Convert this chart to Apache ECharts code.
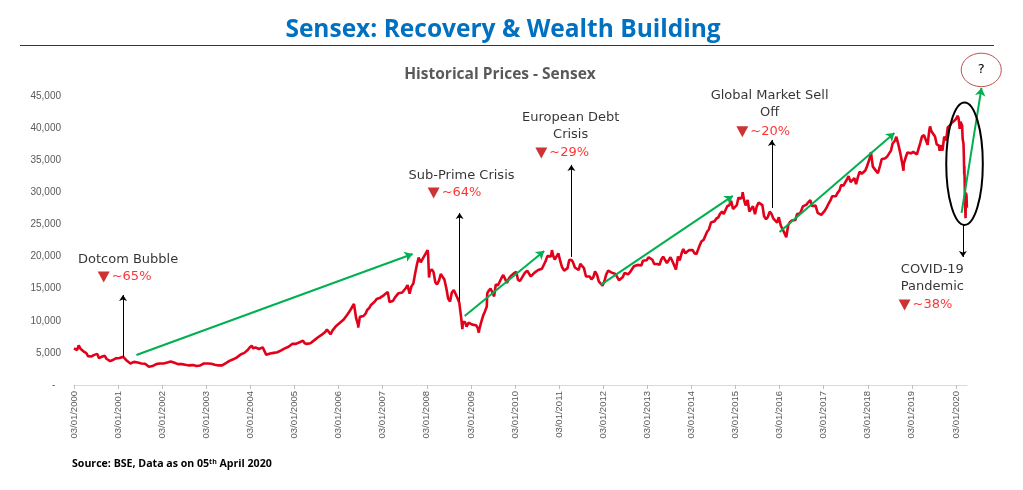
<!DOCTYPE html>
<html><head><meta charset="utf-8">
<script src="https://cdn.jsdelivr.net/npm/echarts@6/dist/echarts.min.js"></script>
<style>html,body{margin:0;padding:0;background:#fff}#c{width:1023px;height:490px}</style>
</head><body><div id="c"></div>
<script>
// ---------- tick labels ----------
const tickYears = [2000,2001,2002,2003,2004,2005,2006,2007,2008,2009,2010,2011,2012,2013,2014,2015,2016,2017,2018,2019,2020];
const tickLabels = ['03/01/2000','03/01/2001','03/01/2002','03/01/2003','03/01/2004','03/01/2005','03/01/2006','03/01/2007','03/01/2008','03/01/2009','03/01/2010','03/01/2011','03/01/2012','03/01/2013','03/01/2014','03/01/2015','03/01/2016','03/01/2017','03/01/2018','03/01/2019','03/01/2020'];

// ---------- Sensex closes, two readings per month (mid-month, month-end) ----------
const halfMonthDays = [14, 28];
const p2000 = [5600,5450, 6100,5600, 5650,5150, 4950,4491, 4300,4433, 4650,4748, 4850,4170, 4350,4477, 4550,4090, 3850,3711, 3850,3998, 4150,3972];
const p2001 = [4200,4326, 4400,4247, 3800,3604, 3350,3519, 3600,3631, 3500,3457, 3350,3329, 3300,3245, 2850,2811, 2950,2989, 3250,3287, 3350,3262];
const p2002 = [3350,3311, 3500,3562, 3650,3469, 3450,3338, 3250,3125, 3250,3244, 3150,2988, 3050,3181, 3100,2991, 2950,2950, 3050,3229, 3350,3377];
const p2003 = [3350,3250, 3300,3283, 3150,3049, 3050,2960, 3050,3180, 3400,3607, 3750,3792, 4000,4244, 4300,4453, 4750,4906, 5000,5044, 5500,5839];
const p2004 = [6100,5695, 5850,5667, 5600,5591, 5850,5655, 4700,4760, 4900,4795, 5000,5170, 5100,5192, 5400,5584, 5700,5672, 5950,6234, 6400,6603];
const p2005 = [6400,6555, 6650,6713, 6900,6493, 6400,6154, 6500,6715, 6950,7193, 7400,7635, 7800,7805, 8250,8634, 8400,7892, 8500,8788, 9200,9398];
const p2006 = [9700,9920, 10200,10370, 10900,11280, 11800,12043, 12400,10399, 9300,10609, 10300,10744, 11100,11699, 12000,12454, 12700,12962, 13400,13696, 13600,13787];
const p2007 = [14000,14091, 14500,12938, 12800,13072, 13600,13872, 14300,14544, 14400,14651, 15100,15551, 14200,15319, 15800,17291, 18800,19838, 19100,19363, 20100,20287];
const p2008 = [20400,17649, 18000,17578, 16000,15644, 16300,17287, 17300,16416, 15000,13462, 13000,14356, 14800,14565, 13500,12860, 10500,9788, 9800,9093, 9700,9647];
const p2009 = [9400,9424, 9300,8892, 8700,9709, 10800,11403, 12200,14625, 15000,14494, 13800,15670, 15500,15667, 16700,17127, 17200,15896, 16600,16926, 17200,17465];
const p2010 = [17600,16358, 16200,16430, 17100,17528, 17800,17559, 16900,16945, 17500,17701, 17900,17868, 18100,17972, 19300,20069, 20300,20032, 20200,19521, 19800,20509];
const p2011 = [19200,18328, 17800,17823, 18200,19445, 19500,19136, 18300,18503, 17900,18845, 18600,18197, 16900,16676, 16900,16454, 16800,17705, 17100,16123, 15800,15455];
const p2012 = [16200,17194, 17800,17753, 17500,17404, 17300,17319, 16300,16219, 16800,17430, 17200,17236, 17600,17430, 18500,18763, 18700,18505, 18600,19340, 19400,19427];
const p2013 = [19900,19895, 19500,18862, 19000,18836, 18700,19504, 20000,19760, 19000,19396, 19900,19346, 18600,18620, 20000,19380, 20500,21165, 20500,20792, 21000,21171];
const p2014 = [21000,20514, 20400,21120, 21800,22386, 22600,22418, 23900,24217, 25300,25414, 25500,25895, 26100,26638, 27000,26631, 26500,27866, 28000,28694, 27400,27499];
const p2015 = [28000,29183, 29000,29361, 28900,27957, 28800,27011, 27300,27828, 26600,27781, 28400,28115, 28000,26283, 25800,26155, 27000,26657, 25900,26146, 25300,26118];
const p2016 = [24800,24871, 23600,23002, 24800,25342, 25600,25607, 25700,26668, 26600,26999, 27800,28052, 28100,28452, 28800,27866, 28000,27930, 26800,26653, 26500,26626];
const p2017 = [27200,27656, 28300,28743, 29400,29621, 29400,29918, 30300,31146, 31000,30922, 32000,32515, 31600,31730, 32200,31284, 32400,33213, 32900,33149, 33400,34057];
const p2018 = [35000,35965, 34000,34184, 33300,32969, 34100,35160, 35300,35322, 35600,35423, 36500,37607, 38000,38645, 37400,36227, 34700,34442, 35500,36194, 35900,36068];
const p2019 = [36300,36257, 35900,35867, 37700,38673, 38900,39032, 37400,39714, 39500,39395, 38700,37481, 37300,37333, 36500,38667, 38100,40129, 40400,40794, 41000,41254];
const yearlyPrices = [p2000,p2001,p2002,p2003,p2004,p2005,p2006,p2007,p2008,p2009,p2010,p2011,p2012,p2013,p2014,p2015,p2016,p2017,p2018,p2019];

// ---------- extra daily readings (start, notable extremes, 2020 crash) ----------
const detailDates = ['2000-01-03','2000-02-11','2004-01-14','2004-05-17','2006-05-10','2006-06-14','2008-01-10','2008-01-22','2008-10-24','2008-10-27','2009-03-09','2009-05-18','2010-11-05','2013-08-28','2015-03-04','2016-02-29','2018-01-29','2018-08-28','2018-10-26','2019-06-03','2019-08-22',
  '2020-01-01','2020-01-10','2020-01-17','2020-01-24','2020-01-31','2020-02-03','2020-02-10','2020-02-14','2020-02-20','2020-02-24','2020-02-28','2020-03-04','2020-03-06','2020-03-09','2020-03-12','2020-03-13','2020-03-16','2020-03-19','2020-03-23','2020-03-25','2020-03-26','2020-03-31','2020-04-03'];
const detailValues = [5700,6150,6200,4505,12612,8929,21000,16730,8701,8509,8160,14284,21005,17968,30024,22951,36283,38896,33349,40268,36472,
  41306,41600,41945,41613,40723,39872,40980,41257,41170,40363,38297,38409,37577,35635,32778,34103,31390,28288,25981,28536,29947,29468,27591];

// ---------- annotations ----------
const eventNames = ['Dotcom Bubble','Sub-Prime Crisis','European Debt\nCrisis','Global Market Sell\nOff','COVID-19\nPandemic'];
const eventLabelAt = [['2001-03-26',19470],['2008-10-17',32550],['2011-04-09',40265],['2015-10-13',43690],['2019-06-22',16670]];
const dropLabels = ['~65%','~64%','~29%','~20%','~38%'];
const dropMarkerAt = [['2000-09-05',16820],['2008-02-29',29900],['2010-08-09',36140],['2015-03-01',39450],['2018-11-04',12460]];
const pointerFrom = [['2001-02-12',4360],['2008-10-01',13000],['2011-04-15',19940],['2015-11-01',27570],['2020-03-01',24920]];
const pointerTo = [['2001-02-12',14020],['2008-10-01',26790],['2011-04-15',34270],['2015-11-01',38160],['2020-03-01',19940]];
const rallyFrom = [['2001-06-03',4670],['2008-11-12',10750],['2011-12-14',15580],['2016-01-03',23830],['2020-02-19',26790]];
const rallyTo = [['2007-09-08',20400],['2010-09-02',20870],['2014-12-12',29440],['2018-08-12',39250],['2020-08-02',46260]];
const covidRing = [['2019-10-15',44000],['2020-08-13',24920]];
const outlookRing = [['2020-02-16',51670],['2021-01-13',46460]];

const yMin = 0, yMax = 45000, yStep = 5000;

// ---------- build ----------
const t = s => Date.parse(s);
const tickValues = tickYears.map(y => Date.UTC(y, 0, 3));
const points = [];
yearlyPrices.forEach((arr, yi) => {
  arr.forEach((v, k) => {
    points.push([Date.UTC(tickYears[yi], Math.floor(k / 2), halfMonthDays[k % 2]), v]);
  });
});
detailDates.forEach((s, i) => points.push([t(s), detailValues[i]]));
points.sort((a, b) => a[0] - b[0]);

const pt = a => [t(a[0]), a[1]];
const chart = echarts.init(document.getElementById('c'), null, {renderer: 'canvas'});

const option = {
  animation: false,
  backgroundColor: '#ffffff',
  grid: {left: 74, right: 56, top: 96, bottom: 105, containLabel: false, outerBoundsMode: 'none'},
  xAxis: {
    type: 'value',
    min: Date.UTC(2000, 0, 3),
    max: Date.UTC(2020, 3, 4),
    axisLine: {show: true, lineStyle: {color: '#D9D9D9', width: 1}},
    axisTick: {show: true, customValues: tickValues, length: 4, lineStyle: {color: '#BFBFBF'}},
    axisLabel: {
      customValues: tickValues, rotate: 90, margin: 6, fontSize: 9.5, color: '#595959',
      fontFamily: 'Liberation Sans',
      formatter: v => tickLabels[new Date(v).getUTCFullYear() - tickYears[0]] || ''
    },
    splitLine: {show: false}
  },
  yAxis: {
    type: 'value', min: yMin, max: yMax, interval: yStep,
    axisLine: {show: false}, axisTick: {show: false}, splitLine: {show: false},
    axisLabel: {
      margin: 13, fontSize: 10, color: '#595959', fontFamily: 'Liberation Sans',
      formatter: v => v === 0 ? '-  ' : v.toLocaleString('en-US')
    }
  },
  series: [
    {
      name: 'Sensex', type: 'line', data: points, showSymbol: false, symbol: 'none',
      lineStyle: {color: '#E2001A', width: 2.6}, z: 2
    },
    {
      name: 'rally', type: 'lines', coordinateSystem: 'cartesian2d', clip: false, z: 4,
      symbol: ['none', 'arrow'], symbolSize: 8,
      lineStyle: {color: '#00B050', width: 2, opacity: 1},
      data: rallyFrom.map((a, i) => ({coords: [pt(a), pt(rallyTo[i])]}))
    },
    {
      name: 'pointer', type: 'lines', coordinateSystem: 'cartesian2d', clip: false, z: 4,
      symbol: ['none', 'arrow'], symbolSize: 6,
      lineStyle: {color: '#000000', width: 1, opacity: 1},
      data: pointerFrom.map((a, i) => ({coords: [pt(a), pt(pointerTo[i])]}))
    },
    {
      name: 'events', type: 'scatter', clip: false, z: 5, symbolSize: 0,
      itemStyle: {color: 'rgba(0,0,0,0)'},
      label: {show: true, position: 'inside', color: '#000000', fontSize: 13, fontFamily: 'DejaVu Sans', lineHeight: 17, align: 'center', formatter: p => eventNames[p.dataIndex]},
      data: eventLabelAt.map(pt)
    },
    {
      name: 'drops', type: 'scatter', clip: false, z: 5,
      symbol: 'triangle', symbolRotate: 180, symbolSize: [12, 11],
      itemStyle: {color: '#C00000'},
      label: {show: true, position: 'right', distance: 2, color: '#FF0000', fontSize: 13, fontFamily: 'DejaVu Sans', formatter: p => dropLabels[p.dataIndex]},
      data: dropMarkerAt.map(pt)
    }
  ]
};
chart.setOption(option);

function px(a) { return chart.convertToPixel({gridIndex: 0}, pt(a)); }
function ringShape(r) {
  const p1 = px(r[0]), p2 = px(r[1]);
  return {cx: (p1[0] + p2[0]) / 2, cy: (p1[1] + p2[1]) / 2, rx: Math.abs(p2[0] - p1[0]) / 2, ry: Math.abs(p2[1] - p1[1]) / 2};
}
const cov = ringShape(covidRing);
const out = ringShape(outlookRing);

chart.setOption({
  graphic: [
    {type: 'text', x: 503, y: 30, z: 10, style: {text: 'Sensex: Recovery & Wealth Building', font: 'bold 24.5px "Open Sans"', fill: '#0070C0', align: 'center', verticalAlign: 'middle'}},
    {type: 'line', z: 10, shape: {x1: 20, y1: 45.5, x2: 994, y2: 45.5}, style: {stroke: '#1F3864', lineWidth: 1}},
    {type: 'text', x: 500, y: 75, z: 10, style: {text: 'Historical Prices - Sensex', font: 'bold 15.5px "Open Sans"', fill: '#595959', align: 'center', verticalAlign: 'middle'}},
    {type: 'text', x: 72, y: 464, z: 10, style: {
      text: '{a|Source: BSE, Data as on 05}{s|th}{a| April 2020}', verticalAlign: 'middle', align: 'left',
      rich: {a: {font: 'bold 10.6px "Open Sans"', fill: '#000', lineHeight: 12}, s: {font: 'bold 7px "Open Sans"', fill: '#000', verticalAlign: 'top', lineHeight: 12, padding: [0, 0, 5, 0]}}
    }},
    {type: 'ellipse', z: 8, shape: cov, style: {fill: 'none', stroke: '#000000', lineWidth: 2}},
    {type: 'ellipse', z: 8, shape: out, style: {fill: '#ffffff', stroke: '#C0504D', lineWidth: 1}},
    {type: 'text', x: out.cx, y: out.cy, z: 9, style: {text: '?', font: '13px "DejaVu Sans"', fill: '#000', align: 'center', verticalAlign: 'middle'}}
  ]
});
</script>
</body></html>
